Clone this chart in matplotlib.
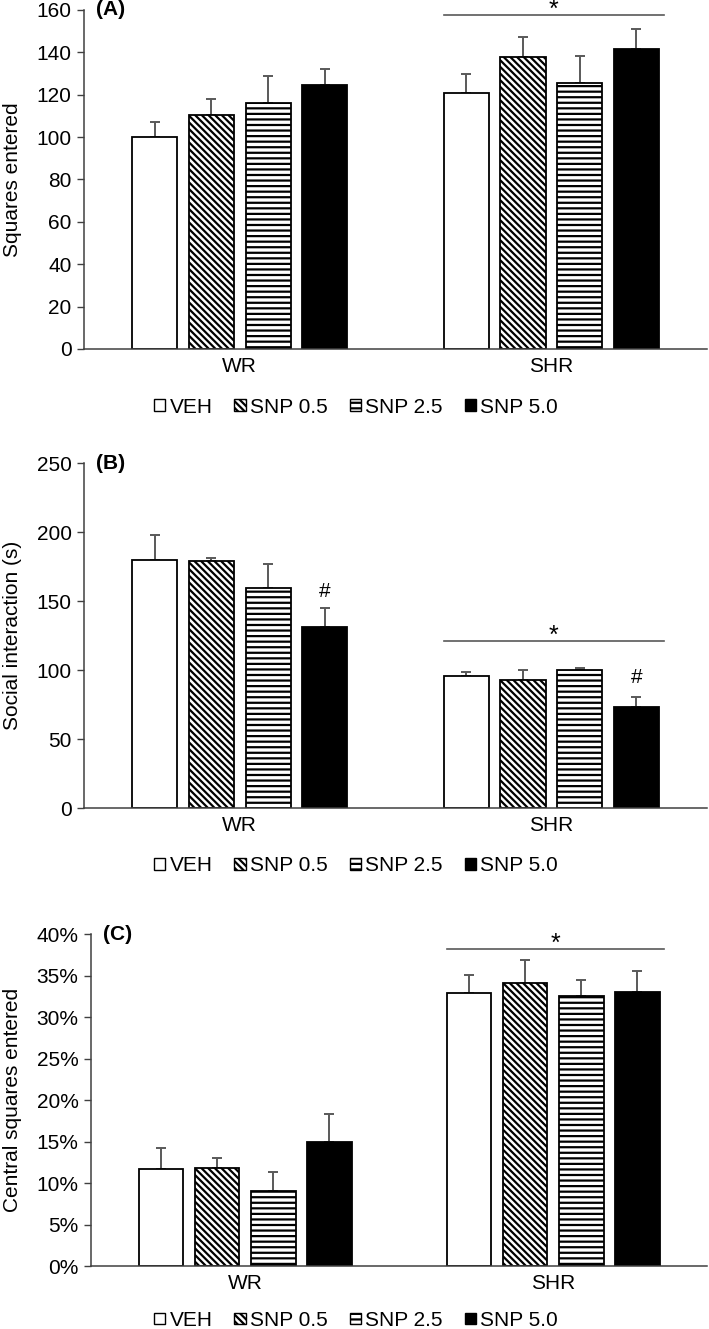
import matplotlib
matplotlib.use('Agg')
import matplotlib.pyplot as plt
import numpy as np
from matplotlib.patches import Patch
from matplotlib.ticker import FuncFormatter
from matplotlib.transforms import blended_transform_factory

plt.rcParams['font.family'] = ['Liberation Sans', 'DejaVu Sans']
plt.rcParams['hatch.linewidth'] = 1.6

groups = ['WR', 'SHR']
treatments = ['VEH', 'SNP 0.5', 'SNP 2.5', 'SNP 5.0']
BS = chr(92)
hatches = ['', BS * 5, '---', '']
faces = ['white', 'white', 'white', 'black']

# panel A - squares entered
a_mean = [[100.2, 110.5, 116.0, 124.5], [120.9, 137.9, 125.3, 141.4]]
a_err = [[6.7, 7.4, 12.8, 7.7], [9.1, 9.3, 12.9, 9.8]]
# panel B - social interaction (s)
b_mean = [[179.8, 178.9, 159.5, 131.5], [96.0, 92.8, 100.0, 73.0]]
b_err = [[18.0, 2.5, 17.5, 13.2], [2.8, 7.2, 1.5, 7.8]]
# panel C - central squares entered (%)
c_mean = [[11.7, 11.85, 9.07, 14.9], [32.86, 34.1, 32.5, 33.06]]
c_err = [[2.55, 1.15, 2.3, 3.45], [2.15, 2.8, 1.9, 2.45]]

grey = '#595959'
spine = '#404040'
fs = 15
width = 0.145
step = 0.182

fig = plt.figure(figsize=(7.09, 13.29), dpi=100)


def panel(rect, mean, err, ylim, yticks, ylabel, tag, star_y, hash_y=None, pct=False, leg_y=0.0):
    ax = fig.add_axes(rect)
    x = np.arange(len(groups))
    for i, t in enumerate(treatments):
        m = [mean[g][i] for g in range(len(groups))]
        e = [err[g][i] for g in range(len(groups))]
        pos = x + (i - 1.5) * step
        ax.errorbar(pos, m, yerr=[np.zeros(len(e)), e], fmt='none', ecolor=grey,
                    elinewidth=1.4, capsize=3.6, capthick=1.4, zorder=1)
        ax.bar(pos, m, width, color=faces[i], edgecolor='black', linewidth=1.3,
               hatch=hatches[i], zorder=2, label=t)
    ax.set_xlim(-0.5, 1.5)
    ax.set_ylim(*ylim)
    ax.set_yticks(yticks)
    if pct:
        ax.yaxis.set_major_formatter(FuncFormatter(lambda v, p: '%d%%' % v))
    ax.set_xticks(x)
    ax.set_xticklabels(groups)
    ax.tick_params(axis='x', length=0, pad=6, labelsize=fs)
    ax.tick_params(axis='y', length=5, width=1, color=spine, pad=4, labelsize=fs, direction='out')
    for s in ['top', 'right']:
        ax.spines[s].set_visible(False)
    for s in ['left', 'bottom']:
        ax.spines[s].set_color(spine)
        ax.spines[s].set_linewidth(1.1)
    ax.set_ylabel(ylabel, fontsize=fs)
    ax.yaxis.set_label_coords(22 / 709, 0.5,
                              transform=blended_transform_factory(fig.transFigure, ax.transAxes))
    ax.text(0.02, 1.0, tag, transform=ax.transAxes, fontsize=fs, fontweight='bold',
            va='center', ha='left')
    # significance bar over SHR
    left = 1 - 1.5 * step - width / 2
    right = 1 + 1.5 * step + width / 2 + 0.015
    ax.plot([left, right], [star_y, star_y], color=grey, lw=1.2, clip_on=False)
    ax.annotate('*', ((left + right) / 2, star_y), xytext=(0, -1.5), textcoords='offset points',
                fontsize=fs + 3, ha='center', va='baseline', annotation_clip=False)
    if hash_y is not None:
        for g in range(len(groups)):
            ax.text(g + 1.5 * step, hash_y[g], '#', fontsize=fs, ha='center', va='center')
    handles = [Patch(facecolor=faces[i], edgecolor='black', hatch=hatches[i], linewidth=1.0)
               for i in range(len(treatments))]
    fig.legend(handles, treatments, loc='center', bbox_to_anchor=(0.502, leg_y), ncol=4,
               frameon=False, fontsize=fs, handlelength=0.55, handleheight=0.5,
               handletextpad=0.2, columnspacing=1.05, borderpad=0)
    return ax


panel([0.1185, 0.7374, 0.879, 0.2551], a_mean, a_err, (0, 160), range(0, 161, 20),
      'Squares entered', '(A)', 157.6, leg_y=0.6937)
panel([0.1185, 0.392, 0.879, 0.2596], b_mean, b_err, (0, 250), range(0, 251, 50),
      'Social interaction (s)', '(B)', 121.2, hash_y=[157, 94.5], leg_y=0.3487)
panel([0.1285, 0.0474, 0.869, 0.2498], c_mean, c_err, (0, 40), range(0, 41, 5),
      'Central squares entered', '(C)', 38.25, pct=True, leg_y=0.0065)

fig.savefig('out.png', dpi=100)
